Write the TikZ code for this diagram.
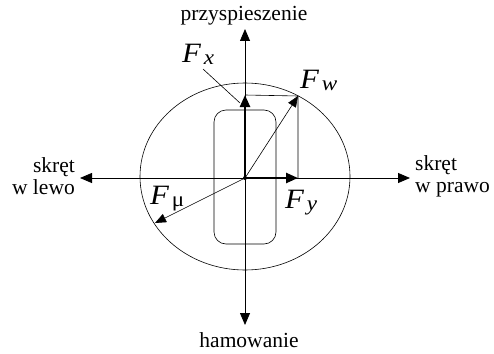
\documentclass[tikz,border=0pt]{standalone}
\usepackage{fontspec}
\setmainfont{Liberation Serif}
\usetikzlibrary{arrows.meta}
\newcommand\Flab[1]{\scalebox{1.1}[1]{{\fontsize{28}{30}\selectfont\itshape F}\kern2.5pt\raisebox{-2pt}{\fontsize{21}{22}\selectfont #1}}}
\begin{document}
\begin{tikzpicture}[x=1pt,y=-1pt,
  tip/.style={-{Triangle[length=12pt,width=10pt]}},
  thinline/.style={line width=0.6pt},
  axisline/.style={line width=0.8pt},
  thickline/.style={line width=2.4pt},
  flab/.style={inner sep=0pt,anchor=base west},
  lab/.style={font=\fontsize{21.5}{22}\selectfont, inner sep=0pt}]
\useasboundingbox (0,0) rectangle (494,353);
% axes
\coordinate (C) at (245,178);
\coordinate (top) at (245,29);
\coordinate (bot) at (245,325);
\coordinate (left) at (80,178);
\coordinate (right) at (410,178);
\draw[axisline,tip] (C) -- (top);
\draw[axisline,tip] (C) -- (bot);
\draw[axisline,tip] (C) -- (left);
\draw[axisline,tip] (C) -- (right);
% ellipse and tyre
\draw[thinline] (245,176.5) ellipse [x radius=105, y radius=93.5];
\draw[thinline,rounded corners=12pt] (214,110) rectangle (276,244);
% force rectangle
\coordinate (fxe) at (245,95);
\coordinate (fye) at (298,178);
\coordinate (fwe) at (298,96);
\draw[thinline] (fxe) -- (fwe) -- (fye);
\draw[thinline,-{Triangle[length=11pt,width=9pt]}] (C) -- (fwe);
\coordinate (fme) at (155,223);
\draw[thinline,-{Triangle[length=11pt,width=9pt]}] (C) -- (fme);
\draw[thickline,-{Triangle[length=12pt,width=10pt]}] (C) -- (fxe);
\draw[thickline,-{Triangle[length=12pt,width=10pt]}] (C) -- (fye);
\fill (C) circle (2pt);
% leader
\coordinate (lead) at (203,69);
\coordinate (leadend) at (240,103);
\draw[thinline] (lead) -- (leadend);
% labels
\node[flab] (Fx) at (182,62) {\Flab{\itshape x}};
\node[flab] (Fw) at (300,88) {\Flab{\itshape w}};
\node[flab] (Fy) at (285,208) {\Flab{\itshape y}};
\node[flab] (Fm) at (150,204) {\Flab{μ}};
\node[lab] (acc) at (244,16) {przyspieszenie};
\node[lab] (brk) at (249,340) {hamowanie};
\node[lab,align=right,anchor=east] (tl) at (75,176) {skręt\\w lewo};
\node[lab,align=left,anchor=west] (tr) at (415,176) {skręt\\w prawo};
\end{tikzpicture}
\end{document}
